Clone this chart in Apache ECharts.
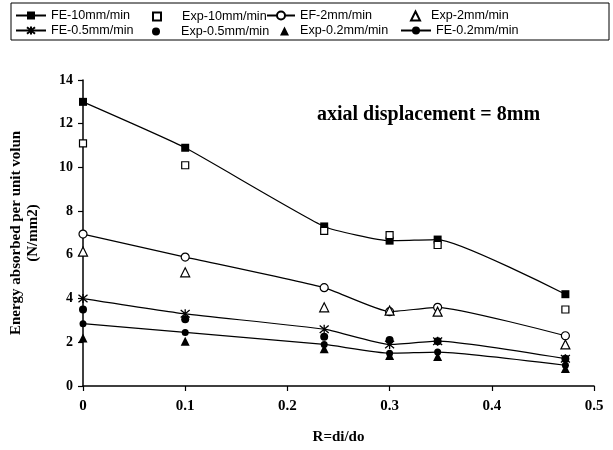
<!DOCTYPE html>
<html>
<head>
<meta charset="utf-8">
<script src="https://cdn.jsdelivr.net/npm/echarts@6/dist/echarts.min.js"></script>
<style>
  html, body { margin: 0; padding: 0; background: #fff; }
  #chart { width: 613px; height: 450px; }
</style>
</head>
<body>
<div id="chart"></div>
<script>
// Diameter ratio R = di/do
const ratios = [0, 0.1, 0.236, 0.3, 0.347, 0.472];

// Energy absorbed per unit volume (N/mm2)
const fe10  = [13.0, 10.9, 7.3, 6.65, 6.7, 4.2];
const exp10 = [11.1, 10.1, 7.1, 6.9, 6.45, 3.5];
const ef2   = [6.95, 5.9, 4.5, 3.4, 3.6, 2.3];
const exp2  = [6.15, 5.2, 3.6, 3.45, 3.4, 1.9];
const fe05  = [4.0, 3.3, 2.6, 1.9, 2.05, 1.25];
const exp05 = [3.5, 3.05, 2.25, 2.1, 2.05, 1.25];
const exp02 = [2.2, 2.05, 1.7, 1.4, 1.35, 0.8];
const fe02  = [2.85, 2.45, 1.9, 1.5, 1.55, 0.95];

const yTicks = { min: 0, max: 14, interval: 2 };
const xTicks = { min: 0, max: 0.5, interval: 0.1 };

const pairs = vals => ratios.map((r, i) => [r, vals[i]]);

const SERIF = 'Liberation Serif, Times New Roman, serif';
const SANS = 'Liberation Sans, Arial, sans-serif';
const starPath = 'path://M0,0L10,10M10,0L0,10M5,-1L5,11';

function feLine(name, vals, symbol, size, style) {
  return {
    name, type: 'line', data: pairs(vals), smooth: 0.15,
    symbol, symbolSize: size, showSymbol: true,
    lineStyle: { color: '#000', width: 1.2 },
    itemStyle: Object.assign({ opacity: 1 }, style), z: 2
  };
}
function expPts(name, vals, symbol, size, style) {
  return {
    name, type: 'scatter', data: pairs(vals),
    symbol, symbolSize: size, itemStyle: Object.assign({ opacity: 1 }, style), z: 3
  };
}

const filled = { color: '#000', borderColor: '#000', borderWidth: 0 };
const hollow = { color: '#fff', borderColor: '#000', borderWidth: 1.2 };
const starStyle = { color: 'rgba(0,0,0,0)', borderColor: '#000', borderWidth: 1.3 };

const series = [
  feLine('FE-10mm/min', fe10, 'rect', 8, filled),
  expPts('Exp-10mm/min', exp10, 'rect', 7, hollow),
  feLine('EF-2mm/min', ef2, 'circle', 8, hollow),
  expPts('Exp-2mm/min', exp2, 'triangle', 9, hollow),
  feLine('FE-0.5mm/min', fe05, starPath, 9, starStyle),
  expPts('Exp-0.5mm/min', exp05, 'circle', 8, filled),
  expPts('Exp-0.2mm/min', exp02, 'triangle', 9, filled),
  feLine('FE-0.2mm/min', fe02, 'circle', 7, filled)
];

// Legend entries laid out in two rows inside a framed box:
// [name, left, row centre y, iconWidth, iconHeight, extra gap before text]
const legendSlots = [
  ['FE-10mm/min', 15, 14, 30, 10, 0],
  ['Exp-10mm/min', 152, 14, 8, 8, 16],
  ['EF-2mm/min', 266, 14, 28, 10, 0],
  ['Exp-2mm/min', 410, 14, 9, 9, 6],
  ['FE-0.5mm/min', 15, 29, 30, 10, 0],
  ['Exp-0.5mm/min', 152, 29, 8, 8, 16],
  ['Exp-0.2mm/min', 280, 29, 9, 9, 6],
  ['FE-0.2mm/min', 400, 29, 30, 10, 0]
];
const legends = legendSlots.map(([name, left, cy, w, h, gap]) => ({
  data: [name], left, top: cy - h / 2, padding: 0,
  itemWidth: w, itemHeight: h, itemGap: 0,
  selectedMode: false,
  textStyle: { color: '#000', fontFamily: SANS, fontSize: 12.6, padding: [0, 0, 0, gap] }
}));

const chart = echarts.init(document.getElementById('chart'), null, { renderer: 'canvas' });
chart.setOption({
  animation: false,
  backgroundColor: '#fff',
  title: {
    text: 'axial displacement = 8mm',
    left: 317, top: 105, padding: 0,
    textStyle: { fontFamily: SERIF, fontWeight: 'bold', fontSize: 20, color: '#000' }
  },
  legend: legends,
  graphic: [{
    type: 'rect', silent: true,
    shape: { x: 11, y: 3, width: 598, height: 37 },
    style: { fill: 'none', stroke: '#000', lineWidth: 1 }
  }],
  grid: { left: 78, right: 19, top: 80, bottom: 61 },
  xAxis: {
    type: 'value', min: xTicks.min, max: xTicks.max, interval: xTicks.interval,
    name: 'R=di/do', nameLocation: 'middle', nameGap: 44,
    nameTextStyle: { fontFamily: SERIF, fontWeight: 'bold', fontSize: 15, color: '#000' },
    axisLine: { show: true, lineStyle: { color: '#000', width: 1.5 } },
    axisTick: { show: true, inside: false, length: 5, lineStyle: { color: '#000', width: 1.2 } },
    axisLabel: { margin: 13, fontFamily: SERIF, fontWeight: 'bold', fontSize: 15, color: '#000' },
    splitLine: { show: false }
  },
  yAxis: {
    type: 'value', min: yTicks.min, max: yTicks.max, interval: yTicks.interval,
    name: 'Energy absorbed per unit volun\n(N/mm2)', nameLocation: 'middle', nameGap: 41,
    nameTextStyle: { fontFamily: SERIF, fontWeight: 'bold', fontSize: 15, lineHeight: 17, color: '#000' },
    axisLine: { show: true, lineStyle: { color: '#000', width: 1.5 } },
    axisTick: { show: true, inside: false, length: 5, lineStyle: { color: '#000', width: 1.2 } },
    axisLabel: { margin: 10, fontFamily: SERIF, fontWeight: 'bold', fontSize: 14, color: '#000' },
    splitLine: { show: false }
  },
  series
});
</script>
</body>
</html>
